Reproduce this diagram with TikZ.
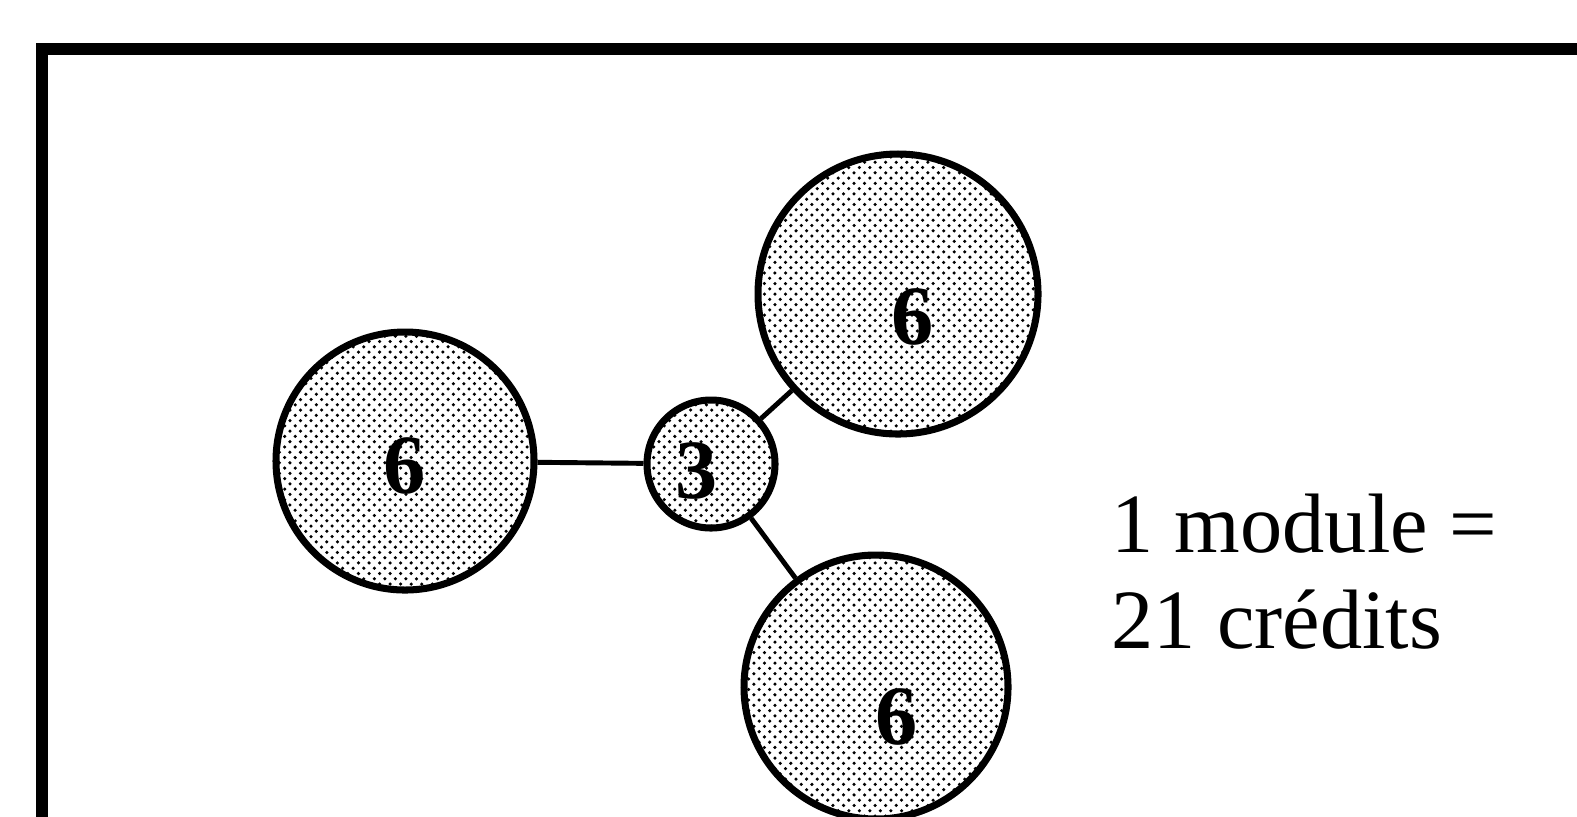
\documentclass[tikz,border=0pt]{standalone}
\usepackage{fontspec}
\setmainfont{Liberation Serif}
\usetikzlibrary{positioning,patterns}

\begin{document}
\begin{tikzpicture}[on grid,
  module/.style = {draw, circle, line width=2pt, inner sep=0pt, pattern=crosshatch dots},
  credit/.style = {font=\fontsize{24}{27}\selectfont\bfseries},
  link/.style = {line width=1.4pt}]
\useasboundingbox (0,0) rectangle (15.77,-8.16);
% frame, open at right and bottom
\draw[line width=3.4pt] (0.42,-8.3) -- (0.42,-0.49) -- (15.9,-0.49);
\node[module, minimum size=1.28cm, label={[credit, xshift=-1.4mm, yshift=-0.7mm]center:3}] (hub) at (7.11,-4.64) {};
\node[module, minimum size=2.58cm, label={[credit, yshift=-0.5mm]center:6}] (west) [left=3.06cm of hub, yshift=0.3mm] {};
\node[module, minimum size=2.80cm, label={[credit, xshift=1.5mm, yshift=-2.3mm]center:6}] (north) [above right=1.70cm and 1.87cm of hub] {};
\node[module, minimum size=2.64cm, label={[credit, xshift=2.1mm, yshift=-3mm]center:6}] (south) [below right=2.23cm and 1.65cm of hub] {};
\draw[link] (west) -- (hub);
\draw[link] (hub) -- (north);
\draw[link] (hub) -- (south);
\node[anchor=base west, align=left, inner sep=0pt, font=\fontsize{24}{27.2}\selectfont] (rate) at (11.11,-6.48) {1 module =\\21 crédits};
\end{tikzpicture}
\end{document}
